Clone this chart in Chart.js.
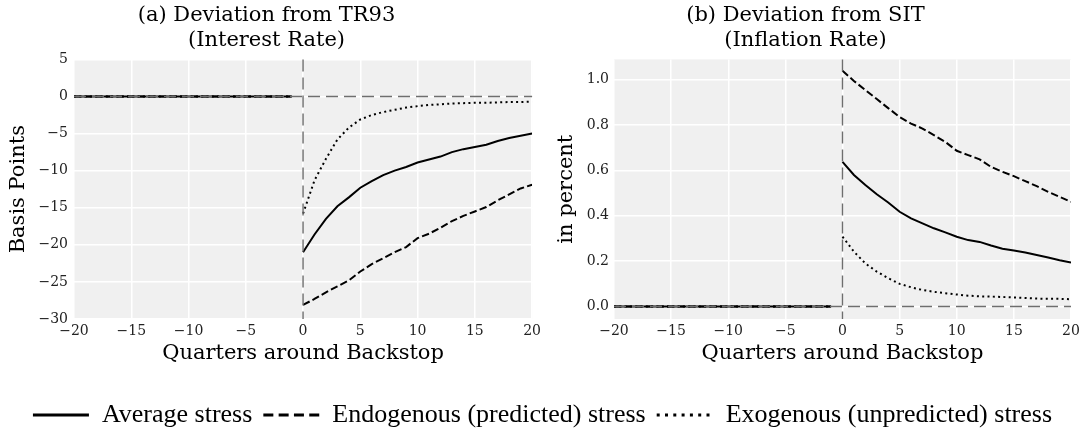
<!DOCTYPE html>
<html>
<head>
<meta charset="utf-8">
<script src="https://cdn.jsdelivr.net/npm/chart.js@4/dist/chart.umd.min.js"></script>
<style>
  body { margin: 0; background: #fff; width: 1085px; height: 430px; position: relative; overflow: hidden; }
  canvas { position: absolute; }
  #rateChart { left: 0; top: 0; }
  #inflChart { left: 540px; top: 0; }
  #legendChart { left: 0; top: 391px; }
</style>
</head>
<body>
<canvas id="rateChart" width="545" height="375"></canvas>
<canvas id="inflChart" width="545" height="375"></canvas>
<canvas id="legendChart" width="1085" height="140"></canvas>
<script>
// quarters around the backstop
const quarters = [-20, -19, -18, -17, -16, -15, -14, -13, -12, -11, -10, -9, -8, -7, -6, -5, -4, -3, -2, -1,
    0, 1, 2, 3, 4, 5, 6, 7, 8, 9, 10, 11, 12, 13, 14, 15, 16, 17, 18, 19, 20];
const xTicks = [-20, -15, -10, -5, 0, 5, 10, 15, 20];

const seriesNames = ['Average stress', 'Endogenous (predicted) stress', 'Exogenous (unpredicted) stress'];

// (a) deviation from TR93, basis points
const avgRate = [0, 0, 0, 0, 0, 0, 0, 0, 0, 0, 0, 0, 0, 0, 0, 0, 0, 0, 0, 0,
    -21.0, -18.6, -16.5, -14.8, -13.6, -12.3, -11.4, -10.6, -10.0, -9.5, -8.9, -8.5, -8.1, -7.5, -7.1, -6.8, -6.5, -6.0, -5.6, -5.3, -5.0];
const endoRate = [0, 0, 0, 0, 0, 0, 0, 0, 0, 0, 0, 0, 0, 0, 0, 0, 0, 0, 0, 0,
    -28.1, -27.3, -26.4, -25.6, -24.8, -23.6, -22.6, -21.8, -21.0, -20.3, -19.1, -18.5, -17.7, -16.8, -16.1, -15.5, -14.9, -14.0, -13.2, -12.4, -11.9];
const exoRate = [0, 0, 0, 0, 0, 0, 0, 0, 0, 0, 0, 0, 0, 0, 0, 0, 0, 0, 0, 0,
    -15.8, -11.3, -8.4, -5.8, -4.2, -3.1, -2.5, -2.1, -1.8, -1.5, -1.3, -1.15, -1.05, -0.95, -0.9, -0.85, -0.85, -0.8, -0.75, -0.75, -0.7];
const rateTicks = [-30, -25, -20, -15, -10, -5, 0, 5];

// (b) deviation from SIT, percent
const avgInfl = [0, 0, 0, 0, 0, 0, 0, 0, 0, 0, 0, 0, 0, 0, 0, 0, 0, 0, 0, 0,
    0.638, 0.58, 0.536, 0.495, 0.459, 0.418, 0.389, 0.367, 0.345, 0.327, 0.308, 0.293, 0.285, 0.269, 0.255, 0.247, 0.238, 0.227, 0.216, 0.204, 0.194];
const endoInfl = [0, 0, 0, 0, 0, 0, 0, 0, 0, 0, 0, 0, 0, 0, 0, 0, 0, 0, 0, 0,
    1.04, 0.995, 0.955, 0.915, 0.875, 0.836, 0.807, 0.785, 0.756, 0.726, 0.687, 0.668, 0.649, 0.616, 0.594, 0.575, 0.553, 0.531, 0.506, 0.484, 0.462];
const exoInfl = [0, 0, 0, 0, 0, 0, 0, 0, 0, 0, 0, 0, 0, 0, 0, 0, 0, 0, 0, 0,
    0.308, 0.242, 0.19, 0.154, 0.125, 0.10, 0.085, 0.073, 0.065, 0.059, 0.053, 0.048, 0.045, 0.044, 0.042, 0.040, 0.038, 0.035, 0.034, 0.034, 0.032];
const inflTicks = [0, 0.2, 0.4, 0.6, 0.8, 1.0];

Chart.defaults.font.family = "'DejaVu Serif', serif";
Chart.defaults.color = '#000';
Chart.defaults.animation = false;

const minus = v => v < 0 ? '\u2212' + Math.abs(v) : String(v);

const plotBackground = {
    id: 'plotBackground',
    beforeDraw(chart) {
        const { ctx, chartArea: a } = chart;
        ctx.save();
        ctx.fillStyle = '#f0f0f0';
        ctx.fillRect(a.left, a.top, a.width, a.height);
        ctx.restore();
    }
};

// dashed gray lines at the backstop quarter and at zero
const backstopLines = {
    id: 'backstopLines',
    afterDatasetsDraw(chart) {
        const { ctx, chartArea: a, scales } = chart;
        const x0 = scales.x.getPixelForValue(0);
        const y0 = scales.y.getPixelForValue(0);
        ctx.save();
        ctx.strokeStyle = '#6e6e6e';
        ctx.lineWidth = 1.4;
        ctx.setLineDash([12, 6]);
        ctx.beginPath();
        ctx.moveTo(x0, a.top);
        ctx.lineTo(x0, a.bottom);
        ctx.moveTo(a.left, y0);
        ctx.lineTo(a.right, y0);
        ctx.stroke();
        ctx.restore();
    }
};

// no line between quarter -1 and quarter 0
const breakAtBackstop = ctx => ctx.p0.parsed.x < 0 && ctx.p1.parsed.x >= 0 ? 'rgba(0,0,0,0)' : undefined;

function makeDatasets(avg, endo, exo) {
    const base = {
        borderColor: '#000',
        borderWidth: 2,
        pointRadius: 0,
        tension: 0,
        fill: false,
        segment: { borderColor: breakAtBackstop }
    };
    return [
        Object.assign({}, base, { label: seriesNames[0], data: avg }),
        Object.assign({}, base, { label: seriesNames[1], data: endo, borderDash: [7.4, 3.2] }),
        Object.assign({}, base, { label: seriesNames[2], data: exo, borderDash: [2, 3.3] })
    ];
}

function makePanel(canvasId, title, yTitle, datasets, yMin, yMax, yTicks, yFmt, yTitlePad, yTickPad, rightPad) {
    return new Chart(document.getElementById(canvasId), {
        type: 'line',
        data: { labels: quarters, datasets: datasets },
        options: {
            responsive: false,
            layout: { padding: { right: rightPad } },
            plugins: {
                legend: { display: false },
                tooltip: { enabled: false },
                title: {
                    display: true,
                    text: title,
                    font: { size: 21, weight: 'normal' },
                    lineHeight: 1.2,
                    padding: { top: 3, bottom: 6 }
                }
            },
            scales: {
                x: {
                    type: 'linear',
                    min: -20,
                    max: 20,
                    afterBuildTicks: axis => { axis.ticks = xTicks.map(v => ({ value: v })); },
                    afterFit: axis => { axis.height = 56; },
                    grid: { color: '#ffffff', lineWidth: 1.5, drawTicks: false },
                    border: { display: false },
                    ticks: { font: { size: 14 }, color: '#222', padding: 4, maxRotation: 0, callback: v => minus(v) },
                    title: { display: true, text: 'Quarters around Backstop', font: { size: 21 }, padding: { top: 0, bottom: 9 } }
                },
                y: {
                    min: yMin,
                    max: yMax,
                    afterBuildTicks: axis => { axis.ticks = yTicks.map(v => ({ value: v })); },
                    afterFit: axis => { axis.width = 74; },
                    grid: { color: '#ffffff', lineWidth: 1.5, drawTicks: false },
                    border: { display: false },
                    ticks: { font: { size: 14 }, color: '#222', padding: yTickPad, callback: yFmt },
                    title: { display: true, text: yTitle, font: { size: 21 }, padding: { top: yTitlePad, bottom: 0 } }
                }
            }
        },
        plugins: [plotBackground, backstopLines]
    });
}

makePanel('rateChart', ['(a) Deviation from TR93', '(Interest Rate)'], 'Basis Points',
    makeDatasets(avgRate, endoRate, exoRate), -30, 5, rateTicks, v => minus(v), 6, 6, 12);

makePanel('inflChart', ['(b) Deviation from SIT', '(Inflation Rate)'], 'in percent',
    makeDatasets(avgInfl, endoInfl, exoInfl), -0.055, 1.09, inflTicks, v => v.toFixed(1), 14, 5, 14);

// shared legend below both panels
new Chart(document.getElementById('legendChart'), {
    type: 'line',
    data: {
        labels: [],
        datasets: [
            { label: seriesNames[0], data: [], borderColor: '#000', borderWidth: 3 },
            { label: seriesNames[1], data: [], borderColor: '#000', borderWidth: 3, borderDash: [10, 5.3] },
            { label: seriesNames[2], data: [], borderColor: '#000', borderWidth: 3, borderDash: [3, 5.3] }
        ]
    },
    options: {
        responsive: false,
        layout: { padding: 0 },
        scales: { x: { display: false }, y: { display: false } },
        plugins: {
            title: { display: false },
            tooltip: { enabled: false },
            legend: {
                position: 'top',
                labels: {
                    usePointStyle: true,
                    pointStyle: 'line',
                    pointStyleWidth: 56,
                    padding: 11,
                    color: '#000',
                    font: { family: "'Liberation Serif', serif", size: 26 },
                    // point-style items lose the dataset dash, put it back
                    generateLabels: chart => Chart.defaults.plugins.legend.labels.generateLabels(chart).map(item => {
                        item.lineDash = chart.data.datasets[item.datasetIndex].borderDash || [];
                        item.lineWidth = 3;
                        return item;
                    })
                }
            }
        }
    }
});
</script>
</body>
</html>
